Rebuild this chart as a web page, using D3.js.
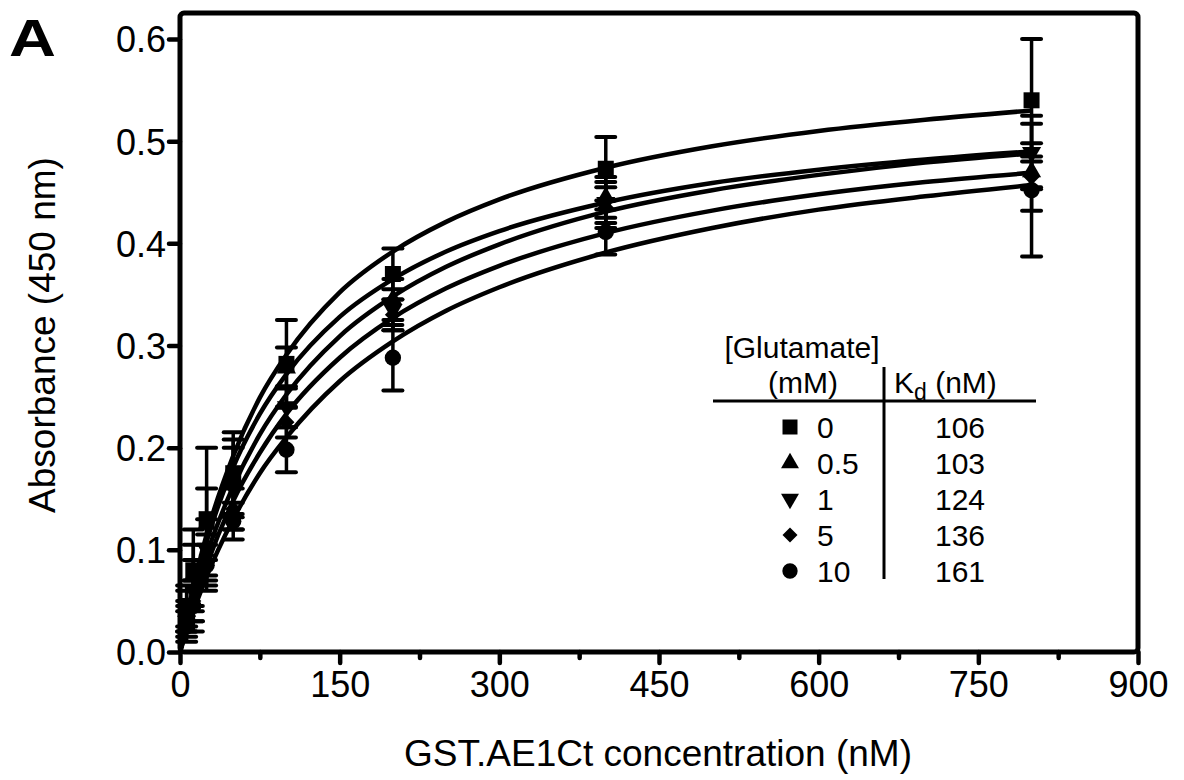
<!DOCTYPE html>
<html><head><meta charset="utf-8">
<script src="https://cdn.jsdelivr.net/npm/d3@7"></script>
<style>
html,body{margin:0;padding:0;background:#fff;}
svg{display:block;font-family:"Liberation Sans",Arial,Helvetica,sans-serif;}
</style></head>
<body><svg id="chart" width="1184" height="780"></svg>
<script>
// ---------- data ----------
const concentrations = [6.25, 12.5, 25, 50, 100, 200, 400, 800];
const glutamateLevels = ["0", "0.5", "1", "5", "10"];
const kdValues = ["106", "103", "124", "136", "161"];
const symbolsNames = ["square", "triangleUp", "triangleDown", "diamond", "circle"];

const abs0  = [0.045, 0.080, 0.130, 0.175, 0.282, 0.370, 0.473, 0.540];
const err0  = [0.020, 0.040, 0.070, 0.040, 0.043, 0.025, 0.031, 0.060];
const abs05 = [0.040, 0.075, 0.125, 0.170, 0.278, 0.345, 0.445, 0.470];
const err05 = [0.020, 0.030, 0.035, 0.038, 0.020, 0.020, 0.020, 0.015];
const abs1  = [0.035, 0.060, 0.100, 0.160, 0.240, 0.335, 0.440, 0.489];
const err1  = [0.015, 0.030, 0.030, 0.040, 0.020, 0.020, 0.020, 0.036];
const abs5  = [0.030, 0.050, 0.095, 0.140, 0.225, 0.330, 0.435, 0.465];
const err5  = [0.015, 0.020, 0.020, 0.020, 0.015, 0.015, 0.020, 0.033];
const abs10 = [0.025, 0.045, 0.085, 0.128, 0.198, 0.288, 0.411, 0.452];
const err10 = [0.015, 0.025, 0.020, 0.018, 0.022, 0.032, 0.022, 0.065];

// fitted curves
const curveX   = [0, 10, 25, 50, 75, 100, 150, 200, 250, 300, 400, 500, 600, 700, 800];
const curve0   = [0, 0.052, 0.115, 0.192, 0.249, 0.291, 0.352, 0.392, 0.421, 0.443, 0.474, 0.495, 0.510, 0.521, 0.530];
const curve05  = [0, 0.049, 0.108, 0.181, 0.233, 0.272, 0.328, 0.365, 0.392, 0.412, 0.440, 0.459, 0.472, 0.482, 0.490];
const curve1   = [0, 0.042, 0.095, 0.162, 0.213, 0.252, 0.309, 0.348, 0.377, 0.399, 0.431, 0.452, 0.467, 0.479, 0.488];
const curve5   = [0, 0.038, 0.085, 0.148, 0.195, 0.233, 0.288, 0.327, 0.356, 0.378, 0.410, 0.432, 0.448, 0.460, 0.469];
const curve10  = [0, 0.032, 0.074, 0.130, 0.175, 0.210, 0.265, 0.304, 0.334, 0.357, 0.391, 0.415, 0.433, 0.446, 0.457];

const xTicks = [0, 150, 300, 450, 600, 750, 900];
const xMinorTicks = [75, 225, 375, 525, 675, 825];
const yTicks = [0.0, 0.1, 0.2, 0.3, 0.4, 0.5, 0.6];

// ---------- layout ----------
const svg = d3.select("#chart");
const L = 180, R = 1138, B = 652, T = 13;
const x = d3.scaleLinear().domain([0, 900]).range([L, R]);
const y = d3.scaleLinear().domain([0, 0.6]).range([B, 39]);

const series = [
  {vals: abs0, errs: err0, curve: curve0, sym: symbolsNames[0]},
  {vals: abs05, errs: err05, curve: curve05, sym: symbolsNames[1]},
  {vals: abs1, errs: err1, curve: curve1, sym: symbolsNames[2]},
  {vals: abs5, errs: err5, curve: curve5, sym: symbolsNames[3]},
  {vals: abs10, errs: err10, curve: curve10, sym: symbolsNames[4]}
];

function symbolPath(name, s) {
  switch (name) {
    case "square": return d3.symbol(d3.symbolSquare, s * s)();
    case "triangleUp": return d3.symbol(d3.symbolTriangle, s * s * 0.62)();
    case "triangleDown": return d3.symbol(d3.symbolTriangle, s * s * 0.62)();
    case "diamond": return d3.symbol(d3.symbolSquare, s * s * 0.5)();
    case "circle": return d3.symbol(d3.symbolCircle, s * s * 0.82)();
  }
}
function symbolRotate(name) {
  if (name === "triangleDown") return " rotate(180)";
  if (name === "diamond") return " rotate(45)";
  return "";
}

// ---------- axes ----------
const xAxis = svg.append("g").attr("transform", `translate(0,${B})`)
  .call(d3.axisBottom(x).tickValues(xTicks).tickSize(11).tickSizeOuter(0).tickPadding(8));
const xMinor = svg.append("g").attr("transform", `translate(0,${B})`)
  .call(d3.axisBottom(x).tickValues(xMinorTicks).tickSize(6).tickSizeOuter(0).tickFormat(""));
const yAxis = svg.append("g").attr("transform", `translate(${L},0)`)
  .call(d3.axisLeft(y).tickValues(yTicks).tickSize(11).tickSizeOuter(0).tickPadding(3).tickFormat(d3.format(".1f")));

[xAxis, xMinor, yAxis].forEach(g => {
  g.select(".domain").remove();
  g.selectAll(".tick line").attr("stroke", "#000").attr("stroke-width", 4.5).attr("stroke-linecap", "round");
  g.selectAll(".tick text").attr("fill", "#000").style("font-size", "36px");
});
yAxis.selectAll(".tick text").attr("dy", "0.36em");
xAxis.selectAll(".tick text").attr("dy", "0.71em");

// frame
svg.append("rect").attr("x", L).attr("y", T).attr("width", R - L).attr("height", B - T)
  .attr("rx", 4).attr("fill", "none").attr("stroke", "#000").attr("stroke-width", 5);

// titles
svg.append("text").attr("x", 658).attr("y", 766).attr("text-anchor", "middle")
  .style("font-size", "37px").text("GST.AE1Ct concentration (nM)");
svg.append("text").attr("transform", "translate(55,335) rotate(-90)").attr("text-anchor", "middle")
  .style("font-size", "37px").text("Absorbance (450 nm)");
svg.append("text").attr("transform", "translate(9,56) scale(1.25,1)").style("font-size", "52px").style("font-weight", "bold")
  .text("A");

// ---------- data marks ----------
const plot = svg.append("g");
const line = d3.line().x((d, i) => x(curveX[i])).y(d => y(d)).curve(d3.curveMonotoneX);

series.forEach(s => {
  const g = plot.append("g");
  concentrations.forEach((c, i) => {
    const cx = x(c), lo = y(s.vals[i] - s.errs[i]), hi = y(s.vals[i] + s.errs[i]);
    g.append("line").attr("x1", cx).attr("x2", cx).attr("y1", lo).attr("y2", hi)
      .attr("stroke", "#000").attr("stroke-width", 3.5);
    [lo, hi].forEach(yy => g.append("line").attr("x1", cx - 9.5).attr("x2", cx + 9.5)
      .attr("y1", yy).attr("y2", yy).attr("stroke", "#000").attr("stroke-width", 4).attr("stroke-linecap", "round"));
  });
});
series.forEach(s => {
  plot.append("path").datum(s.curve).attr("d", line).attr("fill", "none")
    .attr("stroke", "#000").attr("stroke-width", 4.5).attr("stroke-linejoin", "round");
});
series.forEach(s => {
  concentrations.forEach((c, i) => {
    plot.append("path").attr("d", symbolPath(s.sym, 16))
      .attr("transform", `translate(${x(c)},${y(s.vals[i])})${symbolRotate(s.sym)}`)
      .attr("fill", "#000");
  });
});

// ---------- legend table ----------
const lg = svg.append("g").style("font-size", "30px");
lg.append("text").attr("x", 802).attr("y", 358).attr("text-anchor", "middle").text("[Glutamate]");
lg.append("text").attr("x", 803).attr("y", 393).attr("text-anchor", "middle").text("(mM)");
const kd = lg.append("text").attr("x", 894).attr("y", 393);
kd.append("tspan").text("K");
kd.append("tspan").attr("dy", 7).style("font-size", "23px").text("d");
kd.append("tspan").attr("dy", -7).text(" (nM)");
lg.append("line").attr("x1", 713).attr("x2", 1036).attr("y1", 401).attr("y2", 401)
  .attr("stroke", "#000").attr("stroke-width", 3);
lg.append("line").attr("x1", 884).attr("x2", 884).attr("y1", 367).attr("y2", 579)
  .attr("stroke", "#000").attr("stroke-width", 3);
const rowY = d3.scalePoint().domain(glutamateLevels).range([427, 571]);
glutamateLevels.forEach((lvl, i) => {
  const ry = rowY(lvl);
  lg.append("path").attr("d", symbolPath(symbolsNames[i], 15))
    .attr("transform", `translate(790,${ry})${symbolRotate(symbolsNames[i])}`).attr("fill", "#000");
  lg.append("text").attr("x", 817).attr("y", ry + 11).text(lvl);
  lg.append("text").attr("x", 960).attr("y", ry + 11).attr("text-anchor", "middle").text(kdValues[i]);
});
</script></body></html>
